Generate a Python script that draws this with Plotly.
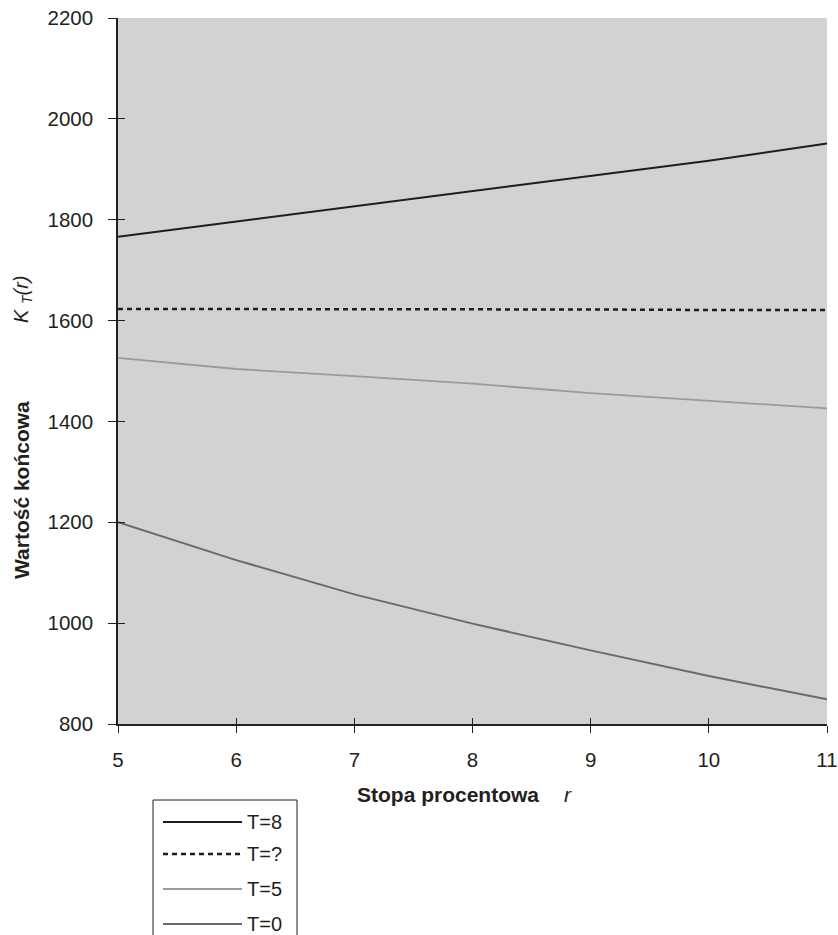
import plotly.graph_objects as go

r = [5, 6, 7, 8, 9, 10, 11]
k_t8 = [1766, 1796, 1826, 1857, 1886, 1917, 1951]
k_tq = [1623, 1623, 1622, 1622, 1622, 1621, 1621]
k_t5 = [1526, 1504, 1490, 1475, 1456, 1441, 1426]
k_t0 = [1200, 1125, 1057, 999, 946, 895, 849]

names = ["T=8", "T=?", "T=5", "T=0"]
series = [k_t8, k_tq, k_t5, k_t0]
colors = ["#1e1e1e", "#1e1e1e", "#9a9a9a", "#6a6a6a"]
widths = [2, 2.5, 1.8, 2]
dashes = ["solid", "5px,4px", "solid", "solid"]

y_ticks = [800, 1000, 1200, 1400, 1600, 1800, 2000, 2200]
x_ticks = [5, 6, 7, 8, 9, 10, 11]

W, H = 838, 935
L, R, T, B = 118, 11, 18, 211
pw, ph = W - L - R, H - T - B

def px(x):
    return (x - L) / pw

def py(y):
    return (H - B - y) / ph

fig = go.Figure()
for i, (n, s, c, w, d) in enumerate(zip(names, series, colors, widths, dashes)):
    # the first series sits on the overlay axes (same ranges) so that the
    # inner half of the crossing tick marks gets drawn
    fig.add_trace(go.Scatter(x=r, y=s, mode="lines", name=n,
                             line=dict(color=c, width=w, dash=d),
                             showlegend=False,
                             xaxis="x2" if i == 0 else "x",
                             yaxis="y2" if i == 0 else "y"))

font = "Liberation Sans, Arial, sans-serif"
tick_col = "#231f20"
fig.update_layout(
    width=W, height=H,
    margin=dict(l=L, r=R, t=T, b=B, autoexpand=False),
    paper_bgcolor="white",
    plot_bgcolor="#d1d2d4",
    font=dict(family=font, size=20.5, color=tick_col),
    xaxis=dict(range=[5, 11], tickvals=x_ticks, ticks="outside", ticklen=7,
               tickcolor=tick_col, showline=True, linecolor=tick_col,
               linewidth=1.5, showgrid=False, zeroline=False,
               ticklabelstandoff=10),
    yaxis=dict(range=[800, 2200], tickvals=y_ticks, ticks="outside", ticklen=8,
               tickcolor=tick_col, showline=True, linecolor=tick_col,
               linewidth=1.5, showgrid=False, zeroline=False,
               ticklabelstandoff=11),
    xaxis2=dict(range=[5, 11], tickvals=x_ticks, ticks="inside", ticklen=6,
                tickcolor=tick_col, showline=False, showgrid=False,
                zeroline=False, showticklabels=False, overlaying="x",
                side="bottom", anchor="y2"),
    yaxis2=dict(range=[800, 2200], tickvals=y_ticks, ticks="inside", ticklen=7,
                tickcolor=tick_col, showline=False, showgrid=False,
                zeroline=False, showticklabels=False, overlaying="y",
                side="left", anchor="x2"),
)

ann = []
ann.append(dict(text="<b>Wartość końcowa</b>", x=px(21), y=py(490), xref="paper",
                yref="paper", textangle=-90, showarrow=False,
                font=dict(size=21), xanchor="center", yanchor="middle"))
ann.append(dict(text="<i>K</i> <sub><i>T</i></sub><i>(r)</i>", x=px(22), y=py(299),
                xref="paper", yref="paper", textangle=-90, showarrow=False,
                font=dict(size=20), xanchor="center", yanchor="middle"))
ann.append(dict(text="<b>Stopa procentowa</b>", x=px(448), y=py(794), xref="paper",
                yref="paper", showarrow=False, font=dict(size=21),
                xanchor="center", yanchor="middle"))
ann.append(dict(text="<i>r</i>", x=px(568), y=py(794), xref="paper",
                yref="paper", showarrow=False, font=dict(size=21),
                xanchor="center", yanchor="middle"))

shapes = []
# legend box (cut off at bottom)
shapes.append(dict(type="rect", xref="paper", yref="paper",
                   x0=px(153), x1=px(297), y0=py(800), y1=py(960),
                   line=dict(color=tick_col, width=1), fillcolor="white"))
leg_y = [822, 854, 889, 924]
for n, c, w, d, yy in zip(names, colors, widths, dashes, leg_y):
    shapes.append(dict(type="line", xref="paper", yref="paper",
                       x0=px(163), x1=px(242), y0=py(yy), y1=py(yy),
                       line=dict(color=c, width=w, dash=d)))
    ann.append(dict(text=n, x=px(245), y=py(yy), xref="paper", yref="paper",
                    showarrow=False, xanchor="left", yanchor="middle",
                    font=dict(size=20)))

fig.update_layout(annotations=ann, shapes=shapes)
fig.write_html("out.html")
